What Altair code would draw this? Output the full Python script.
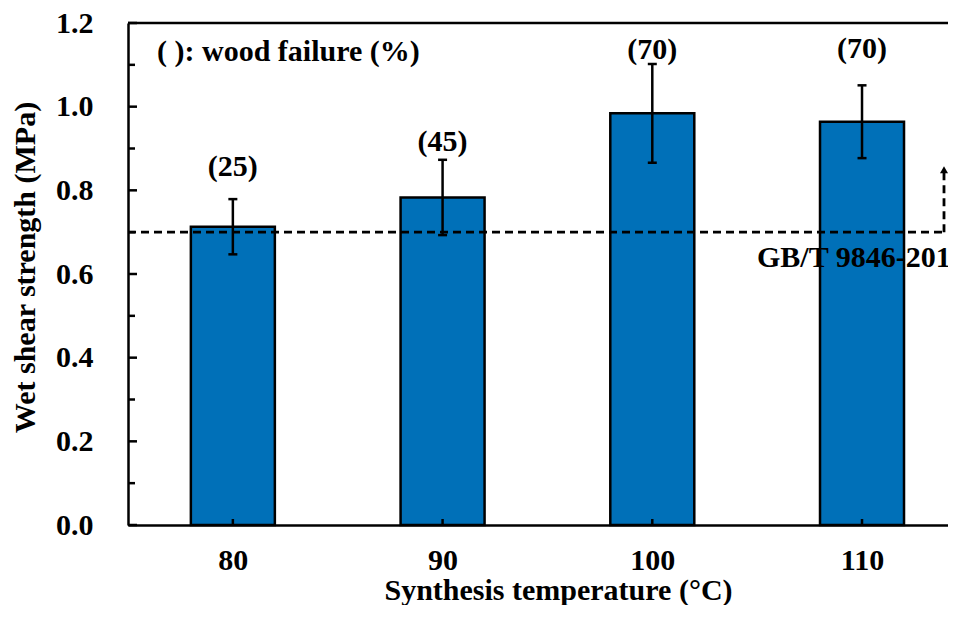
import altair as alt
import pandas as pd

# ---- data ----
temps = [80, 90, 100, 110]
strength = [0.713, 0.783, 0.984, 0.964]
err = [0.066, 0.090, 0.118, 0.087]
wood_failure = ["(25)", "(45)", "(70)", "(70)"]
label_height = [0.856, 0.915, 1.136, 1.138]
major_ticks = [0.0, 0.2, 0.4, 0.6, 0.8, 1.0, 1.2]
minor_ticks = [0.1, 0.3, 0.5, 0.7, 0.9, 1.1]
x_domain = [75, 114.1]
standard_value = 0.7
standard_arrow_top = 0.849
standard_label = "GB/T 9846-2015"
note = "( ): wood failure (%)"

FONT = "Liberation Serif"
FS = 30
BLUE = "#0070B8"
LW = 2.5
W, H = 820, 502
ARROW_X = 816

df = pd.DataFrame({"temp": temps, "strength": strength, "err": err,
                   "wf": wood_failure, "ly": label_height})
df["lo"] = df["strength"] - df["err"]
df["hi"] = df["strength"] + df["err"]

xscale = alt.Scale(domain=x_domain, nice=False, zero=False, padding=0)
yscale = alt.Scale(domain=[0, 1.2], nice=False, zero=True, padding=0)

X = alt.X("temp:Q", scale=xscale,
          axis=alt.Axis(title="Synthesis temperature (°C)", values=temps, format="d",
                        labelAngle=0, ticks=False, grid=False,
                        domain=True, domainColor="black", domainWidth=LW,
                        labelFont=FONT, labelFontWeight="bold", labelFontSize=FS, labelColor="black",
                        labelBaseline="alphabetic", labelPadding=44, labelFlush=False,
                        titleFont=FONT, titleFontWeight="bold", titleFontSize=FS, titleColor="black",
                        titleX=430, titleY=74, titleBaseline="alphabetic", titleAnchor="middle"))
Y = alt.Y("strength:Q", scale=yscale,
          axis=alt.Axis(title="Wet shear strength (MPa)", values=major_ticks, format=".1f",
                        ticks=False, grid=False, domain=True, domainColor="black", domainWidth=LW,
                        labelFont=FONT, labelFontWeight="bold", labelFontSize=FS, labelColor="black",
                        labelPadding=35, labelFlush=False,
                        titleFont=FONT, titleFontWeight="bold", titleFontSize=FS, titleColor="black",
                        titleX=-94, titleY=244, titleBaseline="alphabetic", titleAngle=270))

base = alt.Chart(df)
XS = alt.X("temp:Q", scale=xscale)

bars = base.mark_bar(fill=BLUE, stroke="black", strokeWidth=LW, size=84).encode(x=X, y=Y)

err_rule = base.mark_rule(color="black", strokeWidth=LW).encode(
    x=XS, y=alt.Y("lo:Q", scale=yscale), y2="hi:Q")
cap_lo = base.mark_rule(color="black", strokeWidth=LW, xOffset=-4.5, x2Offset=4.5).encode(
    x=XS, x2="temp:Q", y=alt.Y("lo:Q", scale=yscale))
cap_hi = base.mark_rule(color="black", strokeWidth=LW, xOffset=-4.5, x2Offset=4.5).encode(
    x=XS, x2="temp:Q", y=alt.Y("hi:Q", scale=yscale))

labels = base.mark_text(font=FONT, fontWeight="bold", fontSize=FS, color="black",
                        baseline="middle", align="center").encode(
    x=XS, y=alt.Y("ly:Q", scale=yscale), text="wf:N")

std_df = pd.DataFrame({"v": [standard_value], "top": [standard_arrow_top], "lab": [standard_label]})
std = alt.Chart(std_df)
std_h = std.mark_rule(color="black", strokeWidth=2.8, strokeDash=[8, 5]).encode(
    x=alt.value(0), x2=alt.value(ARROW_X), y=alt.Y("v:Q", scale=yscale))
std_v = std.mark_rule(color="black", strokeWidth=2.8, strokeDash=[8, 5]).encode(
    x=alt.value(ARROW_X), y=alt.Y("v:Q", scale=yscale), y2="top:Q")
std_arrow = std.mark_point(shape="triangle-up", filled=True, color="black", size=64, opacity=1).encode(
    x=alt.value(ARROW_X), y=alt.Y("top:Q", scale=yscale))
std_text = std.mark_text(font=FONT, fontWeight="bold", fontSize=FS, color="black",
                         align="left", baseline="middle", dy=26).encode(
    x=alt.value(629), y=alt.Y("v:Q", scale=yscale), text="lab:N")

note_df = pd.DataFrame({"t": [note]})
note_text = alt.Chart(note_df).mark_text(font=FONT, fontWeight="bold", fontSize=FS, color="black",
                                         align="left", baseline="middle").encode(
    x=alt.value(29), y=alt.value(29), text="t:N")

maj_df = pd.DataFrame({"v": major_ticks})
min_df = pd.DataFrame({"v": minor_ticks})
maj = alt.Chart(maj_df).mark_rule(color="black", strokeWidth=LW).encode(
    x=alt.value(0), x2=alt.value(9), y=alt.Y("v:Q", scale=yscale))
mnr = alt.Chart(min_df).mark_rule(color="black", strokeWidth=LW).encode(
    x=alt.value(0), x2=alt.value(7), y=alt.Y("v:Q", scale=yscale))
xt = base.mark_rule(color="black", strokeWidth=LW).encode(
    x=XS, y=alt.value(H), y2=alt.value(H - 6))
top_line = alt.Chart(note_df).mark_rule(color="black", strokeWidth=LW).encode(
    x=alt.value(0), x2=alt.value(W), y=alt.value(0))

chart = alt.layer(
    bars, std_h, std_v, std_arrow, err_rule, cap_lo, cap_hi, labels, std_text, note_text,
    maj, mnr, xt, top_line
).properties(
    width=W, height=H,
    autosize=alt.AutoSizeParams(type="none"),
    padding={"left": 120, "top": 15, "right": 0, "bottom": 80},
).configure_view(stroke=None)

chart.save("out.html", embed_options={"renderer": "svg", "actions": False})
